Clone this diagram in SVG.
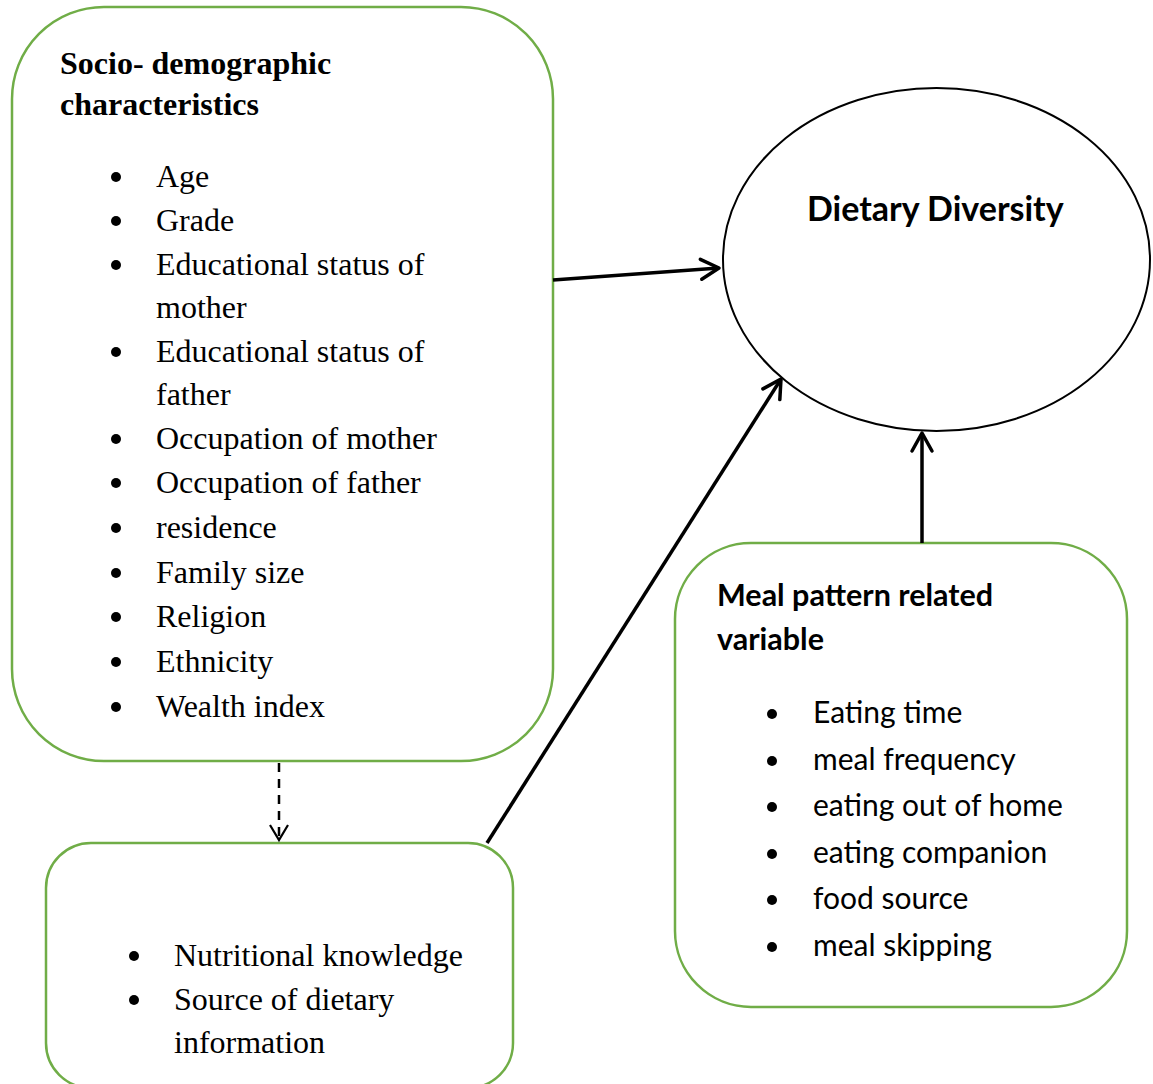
<svg xmlns="http://www.w3.org/2000/svg" width="1153" height="1084" viewBox="0 0 1153 1084">
<style>
.box{fill:#fff;stroke:#70AD47;stroke-width:2.5}
.serif{font-family:"Liberation Serif","Times New Roman",serif;font-size:32px;fill:#000}
.bold{font-weight:bold}
.sans{font-family:Lato,"Liberation Sans",sans-serif;fill:#000}
.conn{stroke:#000;stroke-width:3.5;fill:none}
.dash{stroke:#000;stroke-width:2.5;fill:none;stroke-dasharray:9 7}
.dot{fill:#000}
</style>
<defs>
<marker id="arr" markerUnits="userSpaceOnUse" markerWidth="30" markerHeight="30" orient="auto" overflow="visible">
<path d="M-18,-10 L0,0 L-18,10" fill="none" stroke="#000" stroke-width="3.5" stroke-linecap="round" stroke-linejoin="round"/>
</marker>
<marker id="arrd" markerUnits="userSpaceOnUse" markerWidth="30" markerHeight="30" orient="auto" overflow="visible">
<path d="M-15,-9 L0,0 L-15,9" fill="none" stroke="#000" stroke-width="2.2"/>
</marker>
</defs>
<rect width="1153" height="1084" fill="#fff"/>
<g id="node-socio">
<rect class="box" x="12" y="7" width="541" height="754" rx="92" ry="92"/>
<text class="serif bold" x="60" y="74">Socio- demographic</text>
<text class="serif bold" x="60" y="115">characteristics</text>
<g class="dot">
<circle cx="116" cy="177" r="5"/><circle cx="116" cy="221" r="5"/><circle cx="116" cy="265" r="5"/>
<circle cx="116" cy="352" r="5"/><circle cx="116" cy="439" r="5"/><circle cx="116" cy="483" r="5"/>
<circle cx="116" cy="528" r="5"/><circle cx="116" cy="573" r="5"/><circle cx="116" cy="617" r="5"/>
<circle cx="116" cy="662" r="5"/><circle cx="116" cy="707" r="5"/>
</g>
<text class="serif" x="156" y="187">Age</text>
<text class="serif" x="156" y="231">Grade</text>
<text class="serif" x="156" y="275">Educational status of</text>
<text class="serif" x="156" y="318">mother</text>
<text class="serif" x="156" y="362">Educational status of</text>
<text class="serif" x="156" y="405">father</text>
<text class="serif" x="156" y="449">Occupation of mother</text>
<text class="serif" x="156" y="493">Occupation of father</text>
<text class="serif" x="156" y="538">residence</text>
<text class="serif" x="156" y="583">Family size</text>
<text class="serif" x="156" y="627">Religion</text>
<text class="serif" x="156" y="672">Ethnicity</text>
<text class="serif" x="156" y="717">Wealth index</text>
</g>
<g id="node-knowledge">
<rect class="box" x="46" y="843" width="467" height="245" rx="45" ry="45"/>
<g class="dot"><circle cx="134" cy="956" r="5"/><circle cx="134" cy="1000" r="5"/></g>
<text class="serif" x="174" y="966">Nutritional knowledge</text>
<text class="serif" x="174" y="1010">Source of dietary</text>
<text class="serif" x="174" y="1053">information</text>
</g>
<g id="node-diet">
<ellipse cx="936.5" cy="259.5" rx="213.5" ry="171.5" fill="#fff" stroke="#000" stroke-width="2"/>
<text class="sans bold" x="807" y="221" font-size="34">Dietary Diversity</text>
</g>
<g id="node-meal">
<rect class="box" x="675" y="543" width="452" height="464" rx="76" ry="76"/>
<text class="sans bold" x="717" y="606" font-size="30.5">Meal pattern related</text>
<text class="sans bold" x="717" y="650" font-size="30.5">variable</text>
<g class="dot">
<circle cx="772" cy="714" r="5"/><circle cx="772" cy="761" r="5"/><circle cx="772" cy="807" r="5"/>
<circle cx="772" cy="854" r="5"/><circle cx="772" cy="900" r="5"/><circle cx="772" cy="947" r="5"/>
</g>
<text class="sans" x="813" y="723" font-size="30">Eating time</text>
<text class="sans" x="813" y="770" font-size="30">meal frequency</text>
<text class="sans" x="813" y="816" font-size="30">eating out of home</text>
<text class="sans" x="813" y="863" font-size="30">eating companion</text>
<text class="sans" x="813" y="909" font-size="30">food source</text>
<text class="sans" x="813" y="956" font-size="30">meal skipping</text>
</g>
<g id="connectors">
<line class="conn" x1="553" y1="280" x2="719" y2="268" marker-end="url(#arr)"/>
<line class="conn" x1="487" y1="843" x2="781" y2="379" marker-end="url(#arr)"/>
<line class="conn" x1="922" y1="543" x2="922" y2="433" marker-end="url(#arr)"/>
<line class="dash" x1="279" y1="763" x2="279" y2="840" marker-end="url(#arrd)"/>
</g>
</svg>
